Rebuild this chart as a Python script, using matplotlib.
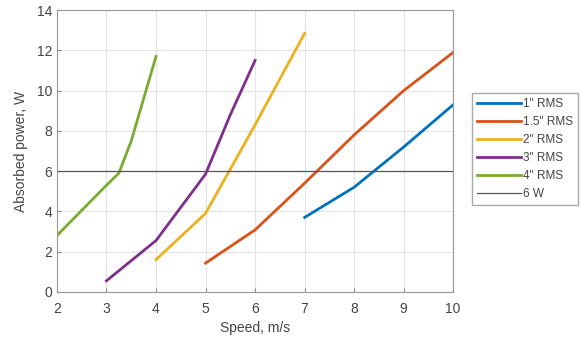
import matplotlib.pyplot as plt

plt.rcParams['font.family'] = ['Liberation Sans', 'DejaVu Sans']

# Speed (m/s) and absorbed power (W) for each RMS roughness level
speed_1 = [7, 8, 9, 10]
power_1 = [3.7, 5.2, 7.2, 9.3]

speed_15 = [5, 6, 7, 8, 9, 10]
power_15 = [1.43, 3.08, 5.4, 7.8, 10.0, 11.9]

speed_2 = [4, 5, 6, 7]
power_2 = [1.6, 3.9, 8.3, 12.85]

speed_3 = [3, 4, 5, 5.5, 6]
power_3 = [0.55, 2.55, 5.85, 8.8, 11.5]

speed_4 = [2, 3, 3.25, 3.5, 4]
power_4 = [2.8, 5.3, 5.9, 7.5, 11.7]

limit_w = 6
labels = ['1" RMS', '1.5" RMS', '2" RMS', '3" RMS', '4" RMS', '6 W']
colors = ['#0072BD', '#D95319', '#EDB120', '#7E2F8E', '#77AC30']

fig = plt.figure(figsize=(5.81, 3.39), dpi=100)
ax = fig.add_axes([0.098, 0.139, 0.682, 0.831])

series = [(speed_1, power_1), (speed_15, power_15), (speed_2, power_2),
          (speed_3, power_3), (speed_4, power_4)]
for (x, y), c, lab in zip(series, colors, labels):
    ax.plot(x, y, color=c, lw=2, label=lab)
ax.axhline(limit_w, color='#555555', lw=0.9, label=labels[-1])

ax.set_xlim(2, 10)
ax.set_ylim(0, 14)
ax.set_xticks(range(2, 11))
ax.set_yticks(range(0, 15, 2))
ax.grid(True, color='#e4e4e4', lw=0.8)
ax.set_axisbelow(True)
ax.tick_params(direction='in', length=3, colors='#888888', labelcolor='#444444', labelsize=10)
ax.tick_params(axis='x', pad=7)
for s in ax.spines.values():
    s.set_color('#999999')
    s.set_linewidth(0.8)

ax.set_xlabel('Speed, m/s', color='#444444', fontsize=10, labelpad=4)
ax.set_ylabel('Absorbed power, W', color='#444444', fontsize=10, labelpad=6)

leg = ax.legend(loc='upper left', bbox_to_anchor=(0.812, 0.726), bbox_transform=fig.transFigure,
                borderaxespad=0, fontsize=8.5, handlelength=3.7, handletextpad=0.15,
                labelspacing=0.5, fancybox=False, framealpha=1, edgecolor='#aaaaaa',
                borderpad=0.45)
for t in leg.get_texts():
    t.set_color('#444444')

fig.savefig('out.png', dpi=100)
